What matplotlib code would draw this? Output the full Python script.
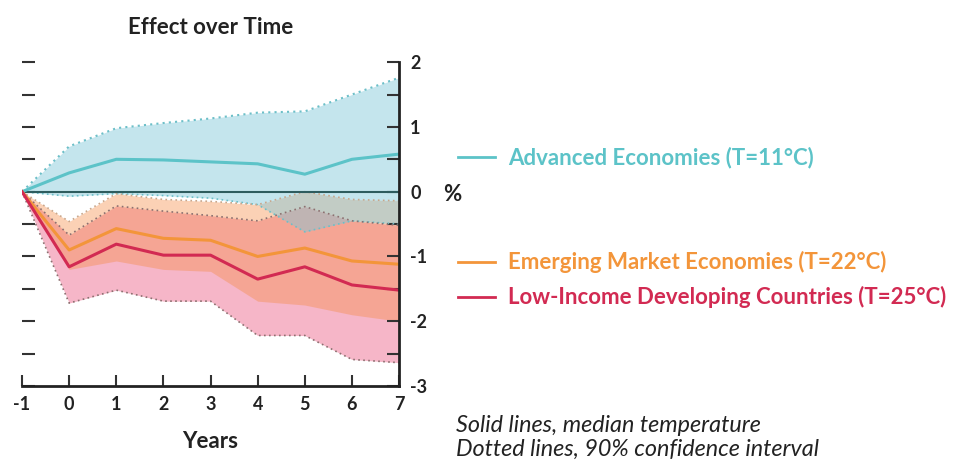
import matplotlib.pyplot as plt

# Years after the temperature shock
years = [-1, 0, 1, 2, 3, 4, 5, 6, 7]

# Advanced Economies (T=11°C)
adv_median = [0, 0.29, 0.50, 0.49, 0.46, 0.43, 0.27, 0.50, 0.58]
adv_upper = [0, 0.70, 0.98, 1.06, 1.13, 1.22, 1.24, 1.50, 1.76]
adv_lower = [0, -0.07, -0.03, -0.06, -0.10, -0.20, -0.62, -0.45, -0.50]

# Emerging Market Economies (T=22°C)
em_median = [0, -0.90, -0.57, -0.72, -0.75, -1.00, -0.87, -1.07, -1.12]
em_upper = [0, -0.46, -0.03, -0.12, -0.15, -0.20, 0.00, -0.12, -0.14]
em_lower = [0, -1.20, -1.07, -1.20, -1.23, -1.69, -1.75, -1.90, -2.00]

# Low-Income Developing Countries (T=25°C)
lidc_median = [0, -1.16, -0.81, -0.98, -0.98, -1.35, -1.16, -1.44, -1.52]
lidc_upper = [0, -0.67, -0.22, -0.30, -0.37, -0.45, -0.23, -0.45, -0.52]
lidc_lower = [0, -1.72, -1.52, -1.69, -1.69, -2.22, -2.22, -2.59, -2.64]

labels = ['Advanced Economies (T=11°C)',
          'Emerging Market Economies (T=22°C)',
          'Low-Income Developing Countries (T=25°C)']

plt.rcParams['font.family'] = ['Lato', 'DejaVu Sans']
plt.rcParams['axes.unicode_minus'] = False

teal = '#5cc3c8'
orange = '#f3953a'
crimson = '#d22a52'
ink = '#222222'

fig = plt.figure(figsize=(9.57, 4.62), dpi=100)
ax = fig.add_axes([0.023, 0.1645, 0.394, 0.701])

# confidence bands (pink first, orange over it, blue on top)
ax.fill_between(years, lidc_lower, lidc_upper, color='#ee6f93', alpha=0.5, lw=0)
ax.fill_between(years, em_lower, em_upper, color='#f58c46', alpha=0.4, lw=0)
ax.fill_between(years, adv_lower, adv_upper, color='#7ec7d9', alpha=0.45, lw=0)

dots = (0, (1, 2))
ax.plot(years, adv_upper, color='#6cbfc8', lw=1.5, ls=dots)
ax.plot(years, adv_lower, color='#6cbfc8', lw=1.2, ls=dots)
ax.plot(years, em_upper, color='#c9a68a', lw=1.2, ls=dots)
ax.plot(years, lidc_upper, color='#8c7070', lw=1.2, ls=dots)
ax.plot(years, lidc_lower, color='#8c7070', lw=1.2, ls=dots)

ax.axhline(0, color='#2e5c5e', lw=1.5)

# median lines
ax.plot(years, adv_median, color=teal, lw=2.2)
ax.plot(years, em_median, color=orange, lw=2.2)
ax.plot(years, lidc_median, color=crimson, lw=2.2)

ax.set_xlim(-1, 7)
ax.set_ylim(-3, 2)
ax.set_xticks(years)
ax.set_xticklabels([str(y) for y in years])
ax.set_yticks([-3, -2, -1, 0, 1, 2])
ax.set_yticks([-2.5, -1.5, -0.5, 0.5, 1.5], minor=True)

for side in ['top', 'left']:
    ax.spines[side].set_visible(False)
for side in ['right', 'bottom']:
    ax.spines[side].set_linewidth(2)
    ax.spines[side].set_color(ink)

ax.tick_params(axis='x', direction='in', length=8, width=1.5, color='#333333',
               labelsize=13, pad=7)
ax.tick_params(axis='y', which='both', direction='in', length=9, width=1.5,
               color='#333333', left=True, right=True, labelleft=False,
               labelright=True, labelsize=13, pad=8)
for lab in ax.get_xticklabels() + ax.get_yticklabels():
    lab.set_fontweight('bold')
    lab.set_color(ink)

ax.set_title('Effect over Time', fontsize=16, fontweight='bold', pad=20,
             color=ink)
ax.set_xlabel('Years', fontsize=16, fontweight='bold', color=ink, labelpad=13)
fig.text(0.463, 0.58, '%', fontsize=16, fontweight='bold', va='center',
         color=ink)

# legend drawn as text next to the chart
legend_rows = [(0.66, teal), (0.433, orange), (0.357, crimson)]
for (y, col), lab in zip(legend_rows, labels):
    fig.add_artist(plt.Line2D([0.479, 0.517], [y, y], color=col, lw=2,
                              transform=fig.transFigure))
    fig.text(0.531, y, lab, fontsize=16, fontweight='bold', color=col,
             va='center')

fig.text(0.476, 0.053, 'Solid lines, median temperature\n'
         'Dotted lines, 90% confidence interval', fontsize=16.8,
         style='italic', color=ink, va='center', linespacing=1.2)

fig.savefig('out.png', dpi=100)
